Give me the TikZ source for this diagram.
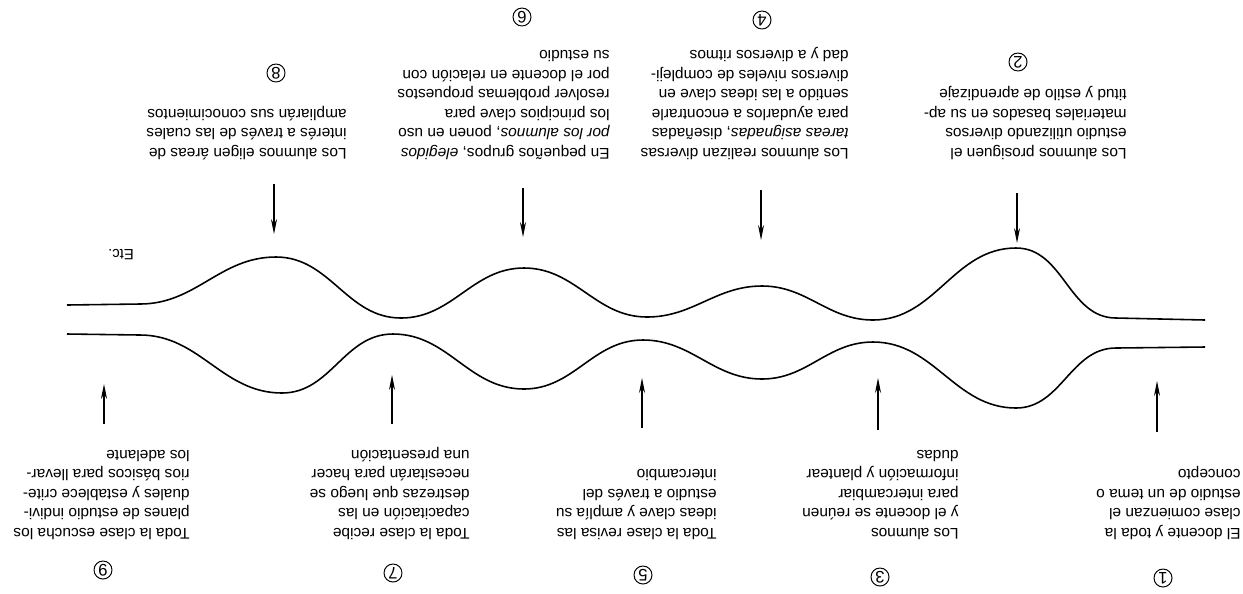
\documentclass[tikz,border=0pt]{standalone}
\usepackage{fontspec}
\setmainfont{Liberation Sans}
\usetikzlibrary{arrows.meta}

\tikzset{
  stagetext/.style={rotate=180, anchor=north west, align=left, inner sep=0pt,
    font=\fontsize{8.8}{11.1}\selectfont},
  stagenum/.style={rotate=180, circle, draw, line width=0.55pt, inner sep=0pt,
    minimum size=0.36cm, font=\fontsize{9.5}{9.5}\selectfont},
  wave/.style={line width=0.9pt},
  pointer/.style={line width=0.6pt, -{Stealth[length=0.3cm, width=0.12cm]}},
}

\begin{document}
\begin{tikzpicture}[x=0.02cm, y=-0.02cm]
\useasboundingbox (0,0) rectangle (1243,593);

% Upper wall of the tube
\draw[wave] (67,305) -- (140,304) to[out=0,in=180] (276,257)
  to[out=0,in=180] (401,318) to[out=0,in=180] (524,268)
  to[out=0,in=180] (647,317) to[out=0,in=180] (762,286)
  to[out=0,in=180] (873,320) to[out=0,in=180] (1016,248)
  to[out=0,in=180] (1116,318) -- (1205,320);

% Lower wall of the tube
\draw[wave] (67,334) -- (140,335) to[out=0,in=180] (282,393)
  to[out=0,in=180] (393,334) to[out=0,in=180] (524,389)
  to[out=0,in=180] (643,340) to[out=0,in=180] (762,379)
  to[out=0,in=180] (873,342) to[out=0,in=180] (1016,408)
  to[out=0,in=180] (1116,348) -- (1205,347);

\node[rotate=180, inner sep=0pt, font=\fontsize{8.5}{10}\selectfont] (etc) at (121,255) {Etc.};

% Stages 8, 6, 4, 2 (arrows point down onto the upper wall)
\node[stagenum] (n8) at (276,73) {8};
\node[stagetext] (t8) at (347,160) {Los alumnos eligen áreas de\\
  interés a través de las cuales\\ampliarán sus conocimientos};
\coordinate (p8) at (274,184);
\coordinate (q8) at (274,234);
\draw[pointer] (p8) -- (q8);

\node[stagenum] (n6) at (522,17) {6};
\node[stagetext] (t6) at (610,160) {En pequeños grupos, \textit{elegidos}\\
  \textit{por los alumnos}, ponen en uso\\los principios clave para\\
  resolver problemas propuestos\\por el docente en relación con\\su estudio};
\coordinate (p6) at (523,188);
\coordinate (q6) at (523,237);
\draw[pointer] (p6) -- (q6);

\node[stagenum] (n4) at (762,20) {4};
\node[stagetext] (t4) at (849,160) {Los alumnos realizan diversas\\
  \textit{tareas asignadas}, diseñadas\\para ayudarlos a encontrarle\\
  sentido a las ideas clave en\\diversos niveles de compleji-\\dad y a diversos ritmos};
\coordinate (p4) at (761,190);
\coordinate (q4) at (761,240);
\draw[pointer] (p4) -- (q4);

\node[stagenum] (n2) at (1018,62) {2};
\node[stagetext] (t2) at (1127,160) {Los alumnos prosiguen el\\
  estudio utilizando diversos\\materiales basados en su ap-\\titud y estilo de aprendizaje};
\coordinate (p2) at (1017,193);
\coordinate (q2) at (1017,243);
\draw[pointer] (p2) -- (q2);

% Stages 9, 7, 5, 3, 1 (arrows point up onto the lower wall)
\node[stagenum] (n9) at (103,570) {9};
\node[stagetext] (t9) at (190,540) {Toda la clase escucha los\\
  planes de estudio indivi-\\duales y establece crite-\\rios básicos para llevar-\\los adelante};
\coordinate (p9) at (104,424);
\coordinate (q9) at (104,384);
\draw[pointer] (p9) -- (q9);

\node[stagenum] (n7) at (393,573) {7};
\node[stagetext] (t7) at (470,540) {Toda la clase recibe\\
  capacitación en las\\destrezas que luego se\\necesitarán para hacer\\una presentación};
\coordinate (p7) at (392,424);
\coordinate (q7) at (392,375);
\draw[pointer] (p7) -- (q7);

\node[stagenum] (n5) at (643,575) {5};
\node[stagetext] (t5) at (717,540) {Toda la clase revisa las\\
  ideas clave y amplía su\\estudio a través del\\intercambio};
\coordinate (p5) at (642,428);
\coordinate (q5) at (642,378);
\draw[pointer] (p5) -- (q5);

\node[stagenum] (n3) at (880,577) {3};
\node[stagetext] (t3) at (959,540) {Los alumnos\\
  y el docente se reúnen\\para intercambiar\\información y plantear\\dudas};
\coordinate (p3) at (878,430);
\coordinate (q3) at (878,378);
\draw[pointer] (p3) -- (q3);

\node[stagenum] (n1) at (1163,578) {1};
\node[stagetext] (t1) at (1241,540) {El docente y toda la\\
  clase comienzan el\\estudio de un tema o\\concepto};
\coordinate (p1) at (1157,432);
\coordinate (q1) at (1157,381);
\draw[pointer] (p1) -- (q1);

\end{tikzpicture}
\end{document}
